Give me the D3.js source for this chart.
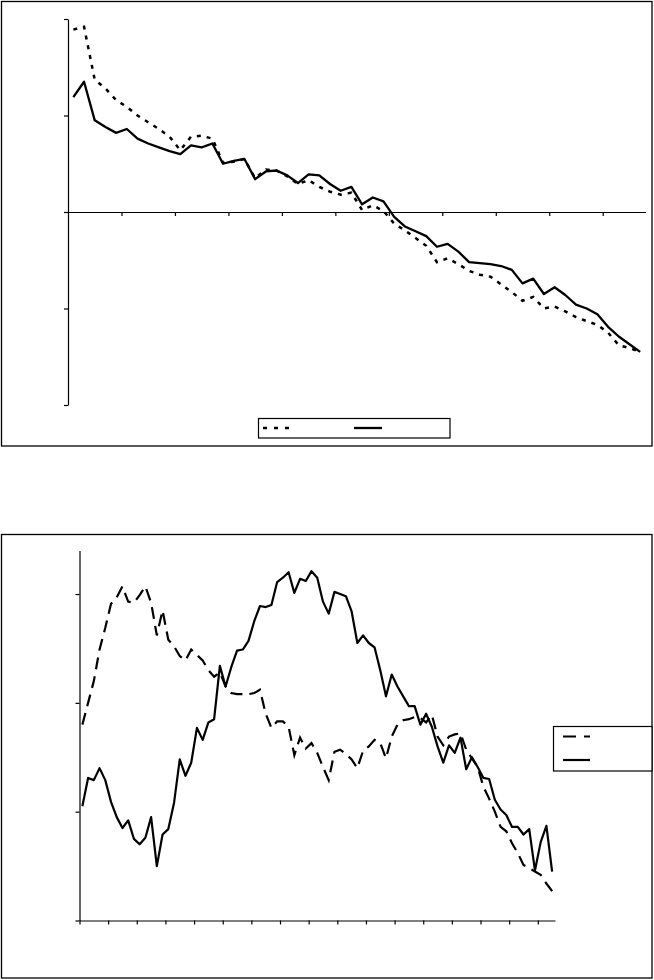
<!DOCTYPE html>
<html><head><meta charset="utf-8">
<script src="https://cdn.jsdelivr.net/npm/d3@7"></script>
<style>html,body{margin:0;padding:0;background:#fff}svg{display:block}</style>
</head><body>
<script>
// ---- Chart 1 data ----
const seriesA1 = [1.89,1.92,1.37,1.28,1.16,1.09,1.00,0.93,0.86,0.78,0.64,0.78,0.79,0.76,0.51,0.52,0.55,0.35,0.44,0.43,0.37,0.29,0.33,0.26,0.21,0.18,0.20,0.02,0.07,0.01,-0.12,-0.19,-0.27,-0.35,-0.52,-0.48,-0.54,-0.61,-0.65,-0.67,-0.75,-0.83,-0.92,-0.88,-1.00,-0.98,-1.03,-1.09,-1.13,-1.17,-1.25,-1.38,-1.41,-1.45];
const seriesB1 = [1.19,1.35,0.95,0.88,0.82,0.86,0.76,0.71,0.67,0.63,0.60,0.69,0.67,0.71,0.50,0.53,0.55,0.34,0.42,0.43,0.38,0.30,0.39,0.38,0.29,0.22,0.26,0.08,0.15,0.11,-0.05,-0.15,-0.20,-0.25,-0.36,-0.33,-0.41,-0.52,-0.53,-0.54,-0.56,-0.60,-0.74,-0.69,-0.85,-0.78,-0.86,-0.96,-1.00,-1.06,-1.19,-1.29,-1.37,-1.45];
const yTicks1 = [-2,-1,0,1,2];
// ---- Chart 2 data ----
const seriesA2 = [1.80,2.00,2.20,2.49,2.69,2.91,2.97,3.07,2.93,2.92,2.99,3.07,2.92,2.62,2.85,2.58,2.52,2.43,2.39,2.49,2.44,2.39,2.30,2.24,2.28,2.15,2.09,2.08,2.08,2.08,2.09,2.12,1.90,1.77,1.83,1.83,1.78,1.52,1.68,1.58,1.63,1.54,1.41,1.29,1.55,1.57,1.53,1.48,1.40,1.56,1.60,1.66,1.63,1.49,1.69,1.80,1.84,1.85,1.87,1.86,1.82,1.89,1.69,1.61,1.69,1.71,1.72,1.57,1.49,1.41,1.23,1.12,1.00,0.86,0.82,0.71,0.62,0.51,0.48,0.45,0.42,0.34,0.27];
const seriesB2 = [1.05,1.31,1.29,1.40,1.29,1.09,0.95,0.85,0.92,0.75,0.70,0.76,0.95,0.50,0.79,0.84,1.08,1.48,1.33,1.45,1.77,1.66,1.82,1.85,2.34,2.15,2.33,2.48,2.49,2.57,2.75,2.89,2.88,2.90,3.11,3.15,3.20,3.01,3.14,3.12,3.21,3.15,2.93,2.82,3.02,3.00,2.98,2.84,2.55,2.62,2.55,2.51,2.30,2.06,2.26,2.15,2.06,1.97,1.97,1.80,1.90,1.78,1.60,1.45,1.61,1.54,1.68,1.39,1.50,1.41,1.31,1.30,1.11,1.02,0.97,0.86,0.86,0.79,0.84,0.46,0.72,0.87,0.45];
const yTicks2 = [0,1,2,3];

const svg = d3.select("body").append("svg").attr("width",654).attr("height",980);

function frame(x,y,w,h){
  svg.append("rect").attr("x",x).attr("y",y).attr("width",w).attr("height",h)
    .attr("fill","none").attr("stroke","#000").attr("stroke-width",1.3);
}

// ===== Chart 1 =====
frame(1.5,1.5,650.5,444.5);
const n1 = seriesA1.length;
const x1 = d3.scaleLinear().domain([0,n1]).range([68,645.5]);
const y1 = d3.scaleLinear().domain([-2,2]).range([405,19]);
const g1 = svg.append("g");
g1.append("g").attr("transform","translate(0,"+y1(0)+")")
  .call(d3.axisBottom(x1).tickValues(d3.range(5,n1,5)).tickFormat("").tickSize(4).tickSizeOuter(0))
  .call(g=>g.selectAll("path,line").attr("stroke","#000").attr("stroke-width",1.2));
g1.append("g").attr("transform","translate("+x1(0)+",0)")
  .call(d3.axisLeft(y1).tickValues(yTicks1).tickFormat("").tickSize(4).tickSizeOuter(0))
  .call(g=>g.selectAll("path,line").attr("stroke","#000").attr("stroke-width",1.2));
const line1 = d3.line().x((d,i)=>x1(i+0.5)).y(d=>y1(d));
g1.append("path").datum(seriesA1).attr("d",line1).attr("fill","none").attr("stroke","#000")
  .attr("stroke-width",2.5).attr("stroke-dasharray","4,6");
g1.append("path").datum(seriesB1).attr("d",line1).attr("fill","none").attr("stroke","#000")
  .attr("stroke-width",2.3).attr("stroke-linejoin","round");
// legend 1
svg.append("rect").attr("x",258.5).attr("y",418.5).attr("width",191.5).attr("height",19.5)
  .attr("fill","#fff").attr("stroke","#000").attr("stroke-width",1.2);
svg.append("line").attr("x1",263).attr("x2",291).attr("y1",428).attr("y2",428)
  .attr("stroke","#000").attr("stroke-width",2.5).attr("stroke-dasharray","4,7");
svg.append("line").attr("x1",354).attr("x2",382).attr("y1",428).attr("y2",428)
  .attr("stroke","#000").attr("stroke-width",2.3);

// ===== Chart 2 =====
frame(1.5,534.5,650.5,443.5);
const n2 = seriesA2.length;
const x2 = d3.scaleLinear().domain([0,n2]).range([79.5,555]);
const y2 = d3.scaleLinear().domain([0,3.4]).range([920.5,550.5]);
const g2 = svg.append("g");
g2.append("g").attr("transform","translate(0,"+y2(0)+")")
  .call(d3.axisBottom(x2).tickValues(d3.range(0,n2,5)).tickFormat("").tickSize(4).tickSizeOuter(0))
  .call(g=>g.selectAll("path,line").attr("stroke","#000").attr("stroke-width",1.2));
g2.append("g").attr("transform","translate("+x2(0)+",0)")
  .call(d3.axisLeft(y2).tickValues(yTicks2).tickFormat("").tickSize(4).tickSizeOuter(0))
  .call(g=>g.selectAll("path,line").attr("stroke","#000").attr("stroke-width",1.2));
const line2 = d3.line().x((d,i)=>x2(i+0.5)).y(d=>y2(d));
g2.append("path").datum(seriesA2).attr("d",line2).attr("fill","none").attr("stroke","#000")
  .attr("stroke-width",2.2).attr("stroke-dasharray","12,7");
g2.append("path").datum(seriesB2).attr("d",line2).attr("fill","none").attr("stroke","#000")
  .attr("stroke-width",2.2).attr("stroke-linejoin","round");
// legend 2
svg.append("rect").attr("x",553.5).attr("y",726.5).attr("width",98.5).attr("height",44.5)
  .attr("fill","#fff").attr("stroke","#000").attr("stroke-width",1.2);
svg.append("line").attr("x1",563).attr("x2",590).attr("y1",736.5).attr("y2",736.5)
  .attr("stroke","#000").attr("stroke-width",2.2).attr("stroke-dasharray","13,8");
svg.append("line").attr("x1",563).attr("x2",590).attr("y1",760).attr("y2",760)
  .attr("stroke","#000").attr("stroke-width",2.2);
</script>
</body></html>
